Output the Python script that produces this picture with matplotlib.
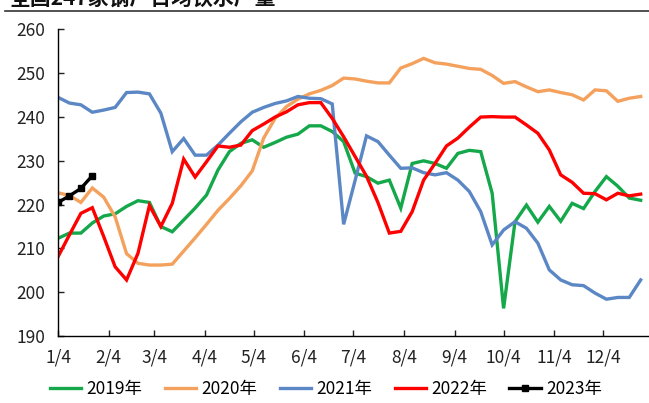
import numpy as np
import pandas as pd
import matplotlib
matplotlib.use('Agg')
from matplotlib import pyplot as plt
from matplotlib.lines import Line2D

plt.rcParams['font.family'] = ['Noto Sans CJK SC', 'DejaVu Sans']

# weekly readings, day-of-year of first week and step
start_day = 4
step = 7

y2019 = [212.3, 213.5, 213.5, 215.8, 217.4, 217.9, 219.6, 220.9, 220.5, 215.0,
         213.8, 216.5, 219.2, 222.2, 227.9, 232.1, 234.0, 234.8, 233.1, 234.2,
         235.4, 236.1, 238.0, 238.0, 236.7, 234.4, 227.2, 226.4, 224.9, 225.6,
         219.2, 229.4, 230.0, 229.4, 228.3, 231.7, 232.4, 232.1, 222.6, 196.3,
         216.1, 219.9, 216.0, 219.6, 216.2, 220.3, 219.1, 223.0, 226.4, 224.2,
         221.5, 221.0]
y2020 = [222.7, 222.1, 220.5, 223.8, 221.7, 217.2, 208.8, 206.6, 206.2, 206.2,
         206.4, 209.4, 212.4, 215.5, 218.7, 221.4, 224.3, 227.7, 235.2, 239.7,
         242.4, 244.1, 245.3, 246.1, 247.2, 248.9, 248.7, 248.2, 247.8, 247.8,
         251.2, 252.2, 253.4, 252.4, 252.1, 251.6, 251.1, 250.9, 249.5, 247.7,
         248.1, 246.9, 245.8, 246.2, 245.6, 245.1, 243.9, 246.2, 246.0, 243.6,
         244.3, 244.7]
y2021 = [244.5, 243.2, 242.8, 241.1, 241.6, 242.2, 245.6, 245.7, 245.3, 240.9,
         232.1, 235.1, 231.3, 231.3, 233.6, 236.3, 238.9, 241.1, 242.2, 243.1,
         243.7, 244.7, 244.3, 244.2, 243.0, 215.5, 225.5, 235.7, 234.4, 231.3,
         228.3, 228.4, 227.3, 226.8, 227.3, 225.6, 223.0, 218.4, 210.8, 214.2,
         216.1, 214.6, 211.2, 205.1, 202.8, 201.7, 201.5, 199.8, 198.4, 198.8,
         198.8, 202.8]
y2022 = [208.1, 213.1, 218.0, 219.3, 212.7, 205.8, 202.8, 208.9, 219.8, 215.0,
         220.3, 230.4, 226.3, 229.8, 233.4, 233.1, 233.6, 236.9, 238.4, 240.0,
         241.2, 242.8, 243.3, 243.3, 239.7, 235.5, 231.0, 226.5, 220.5, 213.5,
         213.9, 218.4, 225.6, 229.4, 233.4, 235.2, 237.7, 240.0, 240.1, 240.0,
         240.0, 238.2, 236.3, 232.5, 226.8, 225.1, 222.6, 222.5, 221.1, 222.6,
         222.0, 222.4]
y2023 = [220.5, 222.0, 223.7, 226.6]

series = [('2019年', y2019, '#14a84b'),
          ('2020年', y2020, '#f4a15d'),
          ('2021年', y2021, '#5b87c5'),
          ('2022年', y2022, '#ff0000')]

tick_labels = ['1/4', '2/4', '3/4', '4/4', '5/4', '6/4', '7/4', '8/4', '9/4', '10/4', '11/4', '12/4']
tick_days = [pd.Timestamp(2019, m, 4).dayofyear for m in range(1, 13)]

fig = plt.figure(figsize=(6.49, 4.03), dpi=100)
ax = fig.add_axes([0.0894, 0.1663, 0.9091, 0.7605])

for name, vals, col in series:
    x = start_day + step * np.arange(len(vals))
    ax.plot(x, vals, color=col, lw=2.4, label=name, solid_joinstyle='miter')

x23 = start_day + step * np.arange(len(y2023))
ax.plot(x23, y2023, color='black', lw=2.4, marker='s', markersize=5, label='2023年')

ax.set_xlim(4, 365.5)
ax.set_ylim(190, 260)
ax.set_xticks(tick_days)
ax.set_xticklabels(tick_labels)
ax.set_yticks(np.arange(190, 261, 10))

for s in ['top', 'right']:
    ax.spines[s].set_visible(False)
for s in ['left', 'bottom']:
    ax.spines[s].set_linewidth(1.0)
ax.tick_params(direction='in', length=4, width=1.0, labelsize=12.5, colors='#222222')
ax.tick_params(axis='y', pad=9)
ax.tick_params(axis='x', pad=9)

fig.legend(loc='center', bbox_to_anchor=(0.502, 0.035), ncol=5, frameon=False,
           fontsize=12.5, handlelength=1.8, handletextpad=0.3, columnspacing=1.3,
           borderaxespad=0, borderpad=0)

# title cut off at top of image, as in the source
fig.text(0.015, 0.989, '全国247家钢厂日均铁水产量', fontsize=15, fontweight='bold',
         va='baseline', ha='left', color='#111111')
fig.add_artist(Line2D([0.008, 1.0], [0.9735, 0.9735], color='#333333', lw=1.2))

fig.savefig('out.png', dpi=100)
